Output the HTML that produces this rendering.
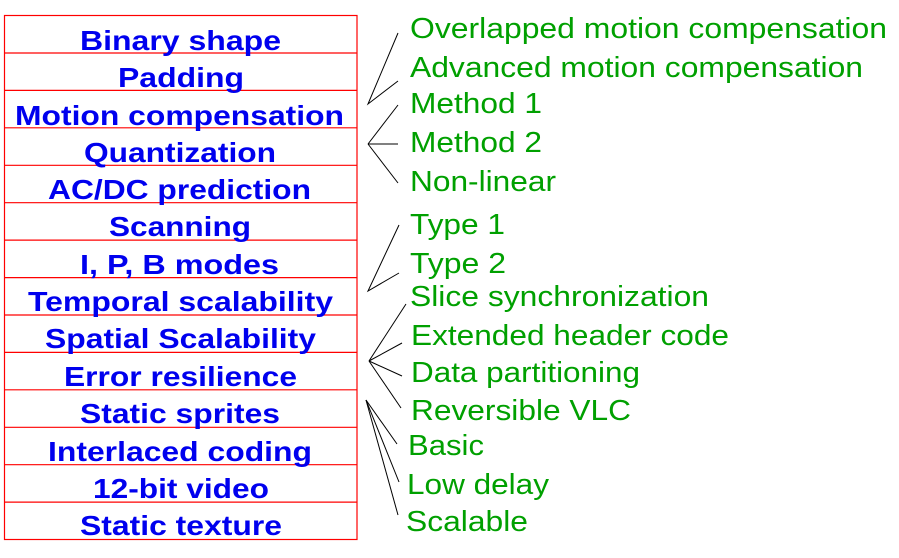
<!DOCTYPE html>
<html><head><meta charset="utf-8"><style>
html,body{margin:0;padding:0;background:#fff;}
svg{display:block;}
.b{font-family:"Liberation Sans",sans-serif;font-weight:bold;font-size:28px;fill:#0000ee;}
.g{font-family:"Liberation Sans",sans-serif;font-size:29px;fill:#00a000;}
</style></head><body>
<svg width="899" height="558" viewBox="0 0 899 558" xmlns="http://www.w3.org/2000/svg">
<g stroke="#ff0000" stroke-width="1.2" fill="none">
<rect x="4.5" y="15.5" width="352.5" height="524"/>
<line x1="4" y1="53" x2="357" y2="53"/>
<line x1="4" y1="90.4" x2="357" y2="90.4"/>
<line x1="4" y1="127.8" x2="357" y2="127.8"/>
<line x1="4" y1="165.3" x2="357" y2="165.3"/>
<line x1="4" y1="202.7" x2="357" y2="202.7"/>
<line x1="4" y1="240.1" x2="357" y2="240.1"/>
<line x1="4" y1="277.6" x2="357" y2="277.6"/>
<line x1="4" y1="315" x2="357" y2="315"/>
<line x1="4" y1="352.4" x2="357" y2="352.4"/>
<line x1="4" y1="389.8" x2="357" y2="389.8"/>
<line x1="4" y1="427.3" x2="357" y2="427.3"/>
<line x1="4" y1="464.7" x2="357" y2="464.7"/>
<line x1="4" y1="502.1" x2="357" y2="502.1"/>
</g>
<g class="b" lengthAdjust="spacingAndGlyphs">
<text x="80" y="50" textLength="201" lengthAdjust="spacingAndGlyphs">Binary shape</text>
<text x="118" y="87" textLength="126" lengthAdjust="spacingAndGlyphs">Padding</text>
<text x="15" y="125" textLength="329" lengthAdjust="spacingAndGlyphs">Motion compensation</text>
<text x="84" y="162" textLength="192" lengthAdjust="spacingAndGlyphs">Quantization</text>
<text x="48" y="199" textLength="263" lengthAdjust="spacingAndGlyphs">AC/DC prediction</text>
<text x="109" y="236" textLength="142" lengthAdjust="spacingAndGlyphs">Scanning</text>
<text x="80" y="274" textLength="199" lengthAdjust="spacingAndGlyphs">I, P, B modes</text>
<text x="28" y="311" textLength="305" lengthAdjust="spacingAndGlyphs">Temporal scalability</text>
<text x="45" y="348" textLength="271" lengthAdjust="spacingAndGlyphs">Spatial Scalability</text>
<text x="64" y="386" textLength="233" lengthAdjust="spacingAndGlyphs">Error resilience</text>
<text x="80" y="423" textLength="200" lengthAdjust="spacingAndGlyphs">Static sprites</text>
<text x="48" y="461" textLength="264" lengthAdjust="spacingAndGlyphs">Interlaced coding</text>
<text x="93" y="498" textLength="176" lengthAdjust="spacingAndGlyphs">12-bit video</text>
<text x="80" y="535" textLength="202" lengthAdjust="spacingAndGlyphs">Static texture</text>
</g>
<g stroke="#000" stroke-width="1" fill="none">
<polyline points="398,33 368,104 398,81"/>
<line x1="368" y1="144" x2="398" y2="105"/>
<line x1="368" y1="144" x2="398" y2="144"/>
<line x1="368" y1="144" x2="398" y2="183"/>
<polyline points="399,225 368,291 399,273"/>
<line x1="369" y1="361" x2="406" y2="304"/>
<line x1="369" y1="361" x2="402" y2="343"/>
<line x1="369" y1="361" x2="402" y2="376"/>
<line x1="369" y1="361" x2="401" y2="408"/>
<line x1="366" y1="400" x2="397" y2="444"/>
<line x1="366" y1="400" x2="399" y2="482"/>
<line x1="366" y1="400" x2="398" y2="515"/>
</g>
<g class="g">
<text x="410" y="38" textLength="477" lengthAdjust="spacingAndGlyphs">Overlapped motion compensation</text>
<text x="410" y="77" textLength="453" lengthAdjust="spacingAndGlyphs">Advanced motion compensation</text>
<text x="410" y="113" textLength="132" lengthAdjust="spacingAndGlyphs">Method 1</text>
<text x="410" y="152" textLength="132" lengthAdjust="spacingAndGlyphs">Method 2</text>
<text x="410" y="191" textLength="146" lengthAdjust="spacingAndGlyphs">Non-linear</text>
<text x="410" y="234" textLength="95" lengthAdjust="spacingAndGlyphs">Type 1</text>
<text x="410" y="273" textLength="96" lengthAdjust="spacingAndGlyphs">Type 2</text>
<text x="410" y="306" textLength="299" lengthAdjust="spacingAndGlyphs">Slice synchronization</text>
<text x="411" y="345" textLength="318" lengthAdjust="spacingAndGlyphs">Extended header code</text>
<text x="411" y="382" textLength="229" lengthAdjust="spacingAndGlyphs">Data partitioning</text>
<text x="411" y="420" textLength="220" lengthAdjust="spacingAndGlyphs">Reversible VLC</text>
<text x="408" y="455" textLength="76" lengthAdjust="spacingAndGlyphs">Basic</text>
<text x="407" y="494" textLength="142" lengthAdjust="spacingAndGlyphs">Low delay</text>
<text x="406" y="531" textLength="122" lengthAdjust="spacingAndGlyphs">Scalable</text>
</g>
</svg>
</body></html>
